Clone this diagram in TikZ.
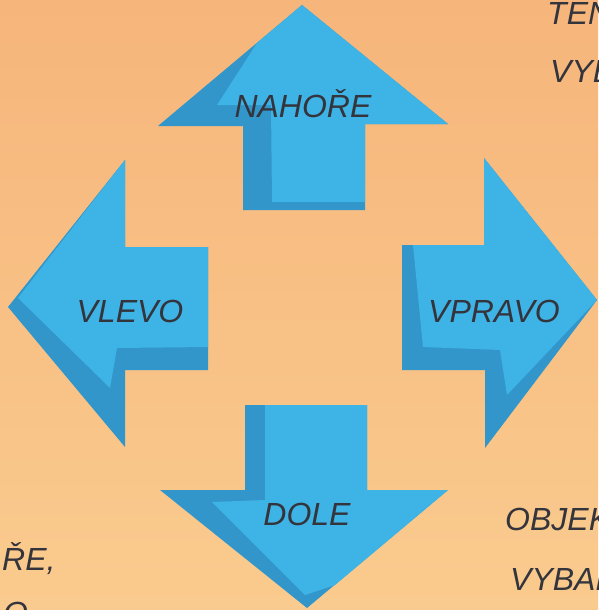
\documentclass[tikz,border=0pt]{standalone}
\usepackage{fontspec}
\setmainfont{Liberation Sans}
\usepackage{tikz}

\definecolor{paperTop}{RGB}{246,181,123}
\definecolor{paperBot}{RGB}{250,203,142}
\definecolor{arrowBlue}{RGB}{62,179,229}
\definecolor{arrowShade}{RGB}{50,150,202}
\definecolor{ink}{RGB}{52,52,60}

\begin{document}
\begin{tikzpicture}[
      x=1pt, y=-1pt,
      back/.style={fill=arrowShade},
      front/.style={fill=arrowBlue},
      word/.style={font=\fontsize{32}{36}\selectfont\itshape, text=ink, inner sep=0pt, anchor=base},
      side/.style={word, anchor=base west}
    ]
    \useasboundingbox (0,0) rectangle (598,610);
    \clip (0,0) rectangle (598,610);
    \shade[top color=paperTop, bottom color=paperBot] (0,0) rectangle (598,610);

    % up
    \fill[back] (302,5) -- (448,124) -- (365,124) -- (365,210) -- (243,210) -- (243,126) -- (158,126) -- cycle;
    \fill[front] (302,5) -- (448,124) -- (365,124) -- (365,202) -- (272,202) -- (271,105) -- (217,105) -- (257,43) -- cycle;
    \node[word] (nahore) at (303,117) {NAHOŘE};

    % left
    \fill[back] (8,307) -- (125,160) -- (125,247) -- (208,247) -- (208,370) -- (125,370) -- (125,447) -- cycle;
    \fill[front] (125,160) -- (125,247) -- (208,247) -- (208,347) -- (117,348) -- (110,388) -- (18,298) -- cycle;
    \node[word] (vlevo) at (130,322) {VLEVO};

    % right
    \fill[back] (597,300) -- (484,158) -- (484,245) -- (402,245) -- (402,370) -- (485,370) -- (485,448) -- cycle;
    \fill[front] (484,158) -- (597,300) -- (507,395) -- (500,350) -- (423,347) -- (413,245) -- (484,245) -- cycle;
    \node[word] (vpravo) at (494,322) {VPRAVO};

    % down
    \fill[back] (245,405) -- (367,405) -- (367,490) -- (448,490) -- (307,608) -- (160,490) -- (245,490) -- cycle;
    \fill[front] (265,405) -- (367,405) -- (367,490) -- (448,490) -- (335,585) -- (305,595) -- (212,502) -- (265,500) -- cycle;
    \node[word] (dole) at (307,525) {DOLE};

    % cut-off words at the edges
    \node[side] (ten) at (547,25) {TEN};
    \node[side] (vyb) at (550,82) {VYB};
    \node[side] (objek) at (505,530) {OBJEK};
    \node[side] (vybar) at (510,590) {VYBAR};
    \node[side] (re) at (2,570) {ŘE,};
    \node[side] (o) at (3,624) {O};
  \end{tikzpicture}
\end{document}
